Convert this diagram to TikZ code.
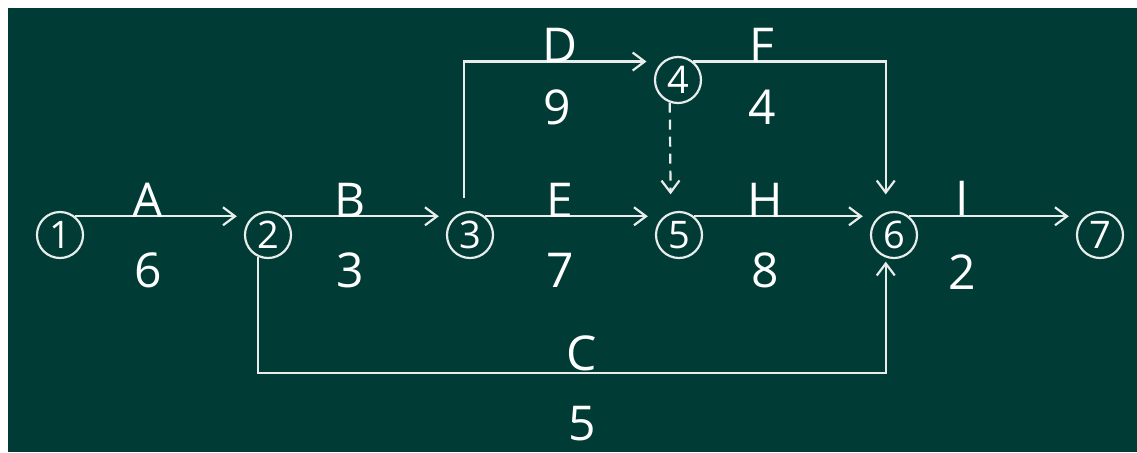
\documentclass[tikz,border=0pt]{standalone}
\usepackage{fontspec}
\setmainfont{Open Sans}
\usetikzlibrary{arrows.meta}
\definecolor{board}{RGB}{1,59,54}
\definecolor{chalk}{RGB}{232,236,234}

\begin{document}
\begin{tikzpicture}[x=0.5pt,y=-0.5pt,
	ev/.style={circle,draw=chalk,line width=1.1pt,minimum size=23pt,inner sep=0pt,text=white,font=\fontsize{19}{19}\selectfont},
	act/.style={draw=chalk,line width=1.1pt,-{Straight Barb[length=6pt,width=9pt]}},
	lab/.style={text=white,font=\fontsize{24}{24}\selectfont}]
	\useasboundingbox (0,0) rectangle (1137,452);
	\fill[white] (0,0) rectangle (1137,452);
	\fill[board] (8,8) rectangle (1137,452);
	\node[ev] (n1) at (60,235) {1};
	\node[ev] (n2) at (268,235) {2};
	\node[ev] (n3) at (470,235) {3};
	\node[ev] (n4) at (678,80) {4};
	\node[ev] (n5) at (679,235) {5};
	\node[ev] (n6) at (894,235) {6};
	\node[ev] (n7) at (1100,235) {7};
	\coordinate (cc) at (575,373);
	\draw[act,shorten >=8pt] (n1.51) -- (n2.129);
	\draw[act,shorten >=8pt] (n2.51) -- (n3.129);
	\draw[act,shorten >=8pt] (n3.51) -- (n5.129);
	\draw[act,shorten >=8pt] (n5.51) -- (n6.129);
	\draw[act,shorten >=8pt] (n6.51) -- (n7.129);
	\draw[act,shorten <=7pt,shorten >=8pt] (n3.104) |- (n4.130);
	\draw[act,shorten >=9pt] (n4.50) -| (n6.110);
	\draw[act,dashed,dash pattern=on 5pt off 3.5pt,shorten >=9pt] (n4.250) -- (n5.110);
	\draw[act,shorten >=2pt] (n2.245) |- (cc) -| (n6.250);
	\path (148,200) node[lab] (la) {A};
	\path (148,270) node[lab] (ta) {6};
	\path (350,200) node[lab] (lb) {B};
	\path (350,270) node[lab] (tb) {3};
	\path (560,45) node[lab] (ld) {D};
	\path (557,107) node[lab] (td) {9};
	\path (560,200) node[lab] (le) {E};
	\path (560,270) node[lab] (te) {7};
	\path (762,45) node[lab] (lf) {F};
	\path (762,107) node[lab] (tf) {4};
	\path (765,200) node[lab] (lh) {H};
	\path (765,270) node[lab] (th) {8};
	\path (962,198) node[lab] (li) {I};
	\path (962,272) node[lab] (ti) {2};
	\path (582,353) node[lab] (lc) {C};
	\path (582,424) node[lab] (tc) {5};
\end{tikzpicture}
\end{document}
